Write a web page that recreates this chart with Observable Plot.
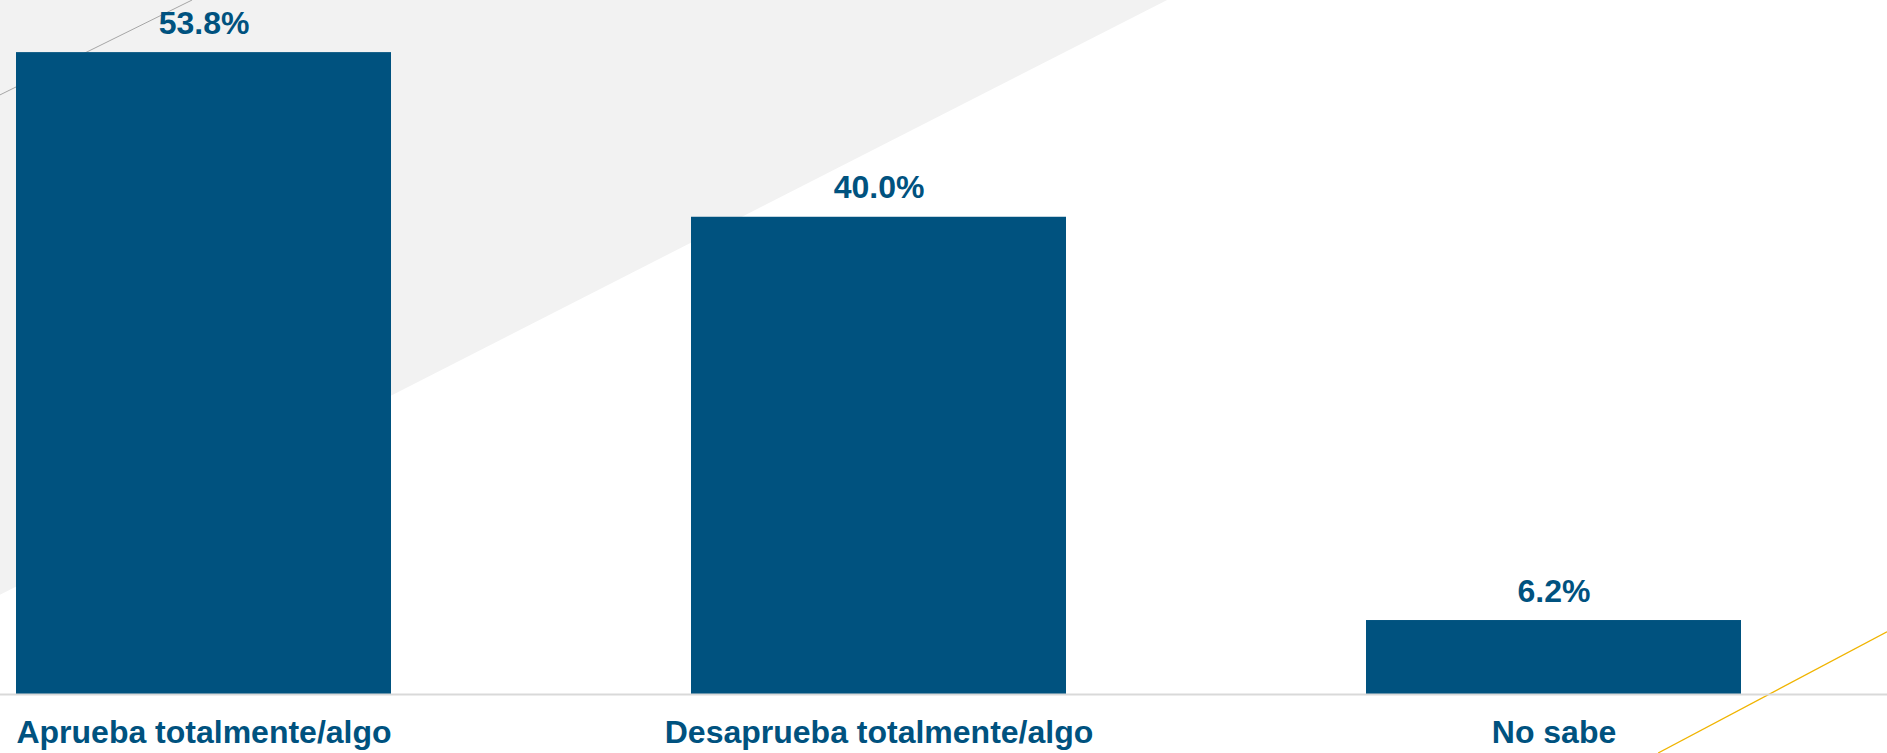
<!DOCTYPE html>
<html>
<head>
<meta charset="utf-8">
<script src="https://cdn.jsdelivr.net/npm/d3@7"></script>
<script src="https://cdn.jsdelivr.net/npm/@observablehq/plot@0.6"></script>
<style>
  html, body { margin: 0; padding: 0; background: #ffffff; overflow: hidden; }
  #chart svg { display: block; }
</style>
</head>
<body>
<div id="chart"></div>
<script>
const categories = ["Aprueba totalmente/algo", "Desaprueba totalmente/algo", "No sabe"];
const values = [53.8, 40.0, 6.2];

const data = categories.map((c, i) => ({category: c, value: values[i]}));

const W = 1887, H = 753;
const blue = "#00527f";
const mLeft = 15.5, mRight = 144.5;

// decorative background (not data): grey diagonal panel and thin accent lines
function decor(index, scales, values, dimensions) {
  const {width, height} = dimensions;
  const g = d3.create("svg:g");
  g.append("polygon")
    .attr("points", `0,0 ${width * 0.6185},0 0,${height * 0.790}`)
    .attr("fill", "#f2f2f2");
  g.append("line")
    .attr("x1", 0).attr("y1", height * 0.126)
    .attr("x2", width * 0.1018).attr("y2", 0)
    .attr("stroke", "#a6a6a6").attr("stroke-width", 1);
  g.append("line")
    .attr("x1", width * 0.8787).attr("y1", height)
    .attr("x2", width).attr("y2", height * 0.839)
    .attr("stroke", "#f0b400").attr("stroke-width", 1.3);
  return g.node();
}

const chart = Plot.plot({
  width: W,
  height: H,
  marginTop: 2,
  marginBottom: 59,
  marginLeft: mLeft,
  marginRight: mRight,
  style: {background: "transparent", fontFamily: "'Liberation Sans', Arial, sans-serif"},
  x: {domain: categories, paddingInner: 0.444, paddingOuter: 0, axis: null},
  y: {domain: [0, 58], axis: null},
  marks: [
    decor,
    Plot.barY(data, {x: "category", y: "value", fill: blue}),
    Plot.ruleY([0], {stroke: "#d9d9d9", strokeWidth: 2, insetLeft: -mLeft, insetRight: -mRight}),
    Plot.text(data, {
      x: "category", y: "value",
      text: d => d3.format(".1f")(d.value) + "%",
      dy: -19, lineAnchor: "bottom",
      fill: blue, fontSize: 32, fontWeight: "bold"
    }),
    Plot.text(data, {
      x: "category", y: () => 0,
      text: "category",
      dy: 48.5, lineAnchor: "bottom",
      fill: blue, fontSize: 32, fontWeight: "bold"
    })
  ]
});

document.getElementById("chart").appendChild(chart);
</script>
</body>
</html>
